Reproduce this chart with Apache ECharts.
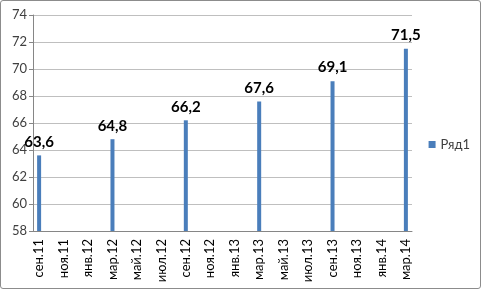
<!DOCTYPE html>
<html>
<head>
<meta charset="utf-8">
<script src="https://cdn.jsdelivr.net/npm/echarts@6/dist/echarts.min.js"></script>
<style>
  html, body { margin: 0; padding: 0; background: #fff; }
  #chart { width: 481px; height: 289px; box-sizing: border-box; border: 1px solid #8c8c8c; border-radius: 3px; }
</style>
</head>
<body>
<div id="chart"></div>
<script>
// месяцы по оси (базовая единица - месяц, подписи через один)
var months = [
  'сен.11', 'окт.11', 'ноя.11', 'дек.11', 'янв.12', 'фев.12', 'мар.12', 'апр.12',
  'май.12', 'июн.12', 'июл.12', 'авг.12', 'сен.12', 'окт.12', 'ноя.12', 'дек.12',
  'янв.13', 'фев.13', 'мар.13', 'апр.13', 'май.13', 'июн.13', 'июл.13', 'авг.13',
  'сен.13', 'окт.13', 'ноя.13', 'дек.13', 'янв.14', 'фев.14', 'мар.14'
];
var row1 = [
  63.6, null, null, null, null, null, 64.8, null,
  null, null, null, null, 66.2, null, null, null,
  null, null, 67.6, null, null, null, null, null,
  69.1, null, null, null, null, null, 71.5
];
var yMin = 58, yMax = 74, yStep = 2;

var myChart = echarts.init(document.getElementById('chart'));
var option = {
  animation: false,
  textStyle: { fontFamily: 'Lato, "Open Sans", sans-serif' },
  grid: { left: 32, right: 68, top: 14, bottom: 57 },
  legend: {
    data: ['Ряд1'],
    orient: 'vertical',
    right: 5,
    top: 132,
    itemWidth: 7,
    itemHeight: 7,
    itemGap: 4,
    icon: 'rect',
    textStyle: { color: '#404040', fontSize: 13, fontFamily: 'Lato, sans-serif' }
  },
  xAxis: {
    type: 'category',
    data: months,
    boundaryGap: true,
    axisLine: { lineStyle: { color: '#868686' } },
    axisTick: { interval: 1, length: 5, lineStyle: { color: '#868686' } },
    axisLabel: {
      interval: 1,
      rotate: 90,
      color: '#000',
      fontSize: 13,
      margin: 8
    },
    splitLine: { show: false }
  },
  yAxis: {
    type: 'value',
    min: yMin,
    max: yMax,
    interval: yStep,
    axisLine: { show: true, lineStyle: { color: '#868686' } },
    axisTick: { show: true, length: 4, lineStyle: { color: '#868686' } },
    axisLabel: { color: '#404040', fontSize: 13, margin: 6 },
    splitLine: { lineStyle: { color: '#bfbfbf' } }
  },
  series: [{
    name: 'Ряд1',
    type: 'bar',
    data: row1,
    barWidth: 4,
    itemStyle: { color: '#4a7ebb' },
    label: {
      show: true,
      position: 'top',
      distance: 6,
      color: '#000',
      fontSize: 15,
      fontWeight: 'bold',
      formatter: function (p) { return String(p.value).replace('.', ','); }
    }
  }]
};
myChart.setOption(option);
</script>
</body>
</html>
